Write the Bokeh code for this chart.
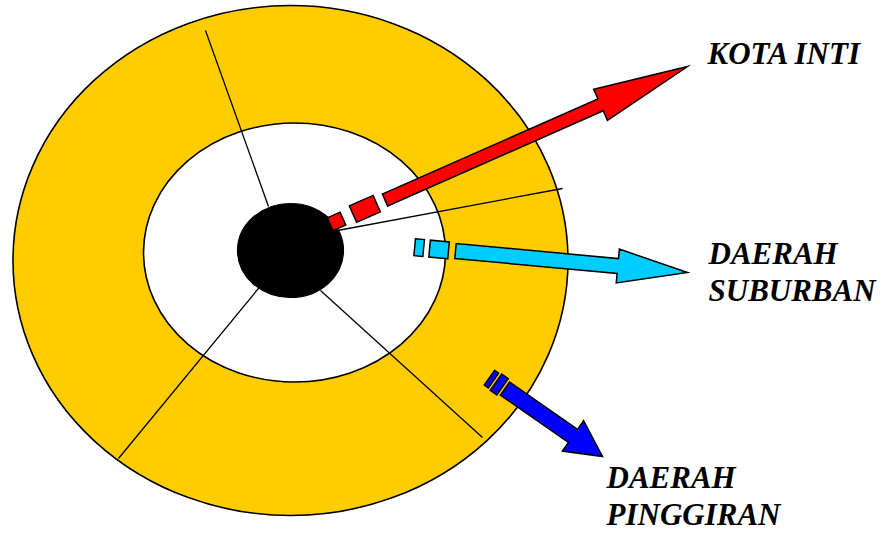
import numpy as np
from bokeh.plotting import figure
from bokeh.models import Range1d
from bokeh.core.properties import value
from bokeh.embed import file_html
from bokeh.resources import INLINE

# ---- diagram data (page pixel coordinates) ----
ring_names = ["outer", "inner", "core"]
ring_cx = [290, 294, 290]
ring_cy = [260, 252, 250]
ring_w = [555, 302, 106]
ring_h = [510, 259, 94]
ring_fill = ["#FFCC00", "#FFFFFF", "#000000"]

line_x0 = [205, 118, 320, 337]
line_y0 = [30, 458, 290, 230]
line_x1 = [268, 262, 482, 562]
line_y1 = [206, 283, 437, 188]

arrow_names = ["KOTA INTI", "DAERAH SUBURBAN", "DAERAH PINGGIRAN"]
arrow_start_x = [384.5, 455, 504.5]
arrow_start_y = [199.5, 250.5, 388]
arrow_tip_x = [687, 687, 602]
arrow_tip_y = [66, 272, 456]
arrow_shaft_hw = [6.5, 7.5, 8]
arrow_head_hw = [17, 17, 18.5]
arrow_head_len = [95, 70, 36]
arrow_color = ["#FF0000", "#00CCFF", "#0000FF"]
# dashes behind the shaft: (from, to) distance back along axis, half width
arrow_dashes = [
    [(9, 35, 9), (46, 60, 7)],
    [(7, 26, 8.5), (32, 41, 8.5)],
    [(3, 11, 10), (14, 19, 9)],
]

label_lines = [["KOTA INTI"], ["DAERAH", "SUBURBAN"], ["DAERAH", "PINGGIRAN"]]
label_x = [707, 708, 606]
label_y = [52.5, 253, 477]
label_step = 36.5

W, H = 890, 530
p = figure(width=W, height=H, x_range=Range1d(0, W), y_range=Range1d(H, 0),
           x_axis_type=None, y_axis_type=None, toolbar_location=None,
           output_backend="svg", min_border=0)
p.grid.visible = False
p.outline_line_color = None
p.background_fill_color = "white"

for i in range(2):
    p.ellipse(x=ring_cx[i], y=ring_cy[i], width=ring_w[i], height=ring_h[i],
              fill_color=ring_fill[i], line_color="black", line_width=1.6)

p.segment(x0=line_x0, y0=line_y0, x1=line_x1, y1=line_y1, line_color="black", line_width=1.3)

p.ellipse(x=ring_cx[2], y=ring_cy[2], width=ring_w[2], height=ring_h[2],
          fill_color=ring_fill[2], line_color="black", line_width=1.2)

xs, ys, cols = [], [], []
for i in range(3):
    S = np.array([arrow_start_x[i], arrow_start_y[i]])
    T = np.array([arrow_tip_x[i], arrow_tip_y[i]])
    u = (T - S) / np.linalg.norm(T - S)
    n = np.array([-u[1], u[0]])
    w, hw, L = arrow_shaft_hw[i], arrow_head_hw[i], arrow_head_len[i]
    Hb = T - L * u
    pts = [S + w * n, Hb + w * n, Hb + hw * n, T, Hb - hw * n, Hb - w * n, S - w * n]
    xs.append([q[0] for q in pts]); ys.append([q[1] for q in pts]); cols.append(arrow_color[i])
    for a, b, dw in arrow_dashes[i]:
        A = S - a * u
        B = S - b * u
        pts = [A + dw * n, B + dw * n, B - dw * n, A - dw * n]
        xs.append([q[0] for q in pts]); ys.append([q[1] for q in pts]); cols.append(arrow_color[i])

p.patches(xs=xs, ys=ys, fill_color=cols, line_color="black", line_width=1.5, line_join="miter")

for i in range(3):
    for j, t in enumerate(label_lines[i]):
        p.text(x=[label_x[i]], y=[label_y[i] + j * label_step], text=[t],
               text_font=value("Liberation Serif"),
               text_font_style="bold italic",
               text_font_size="31px", text_color="black", text_baseline="middle",
               text_align="left")

open("out.html", "w").write(file_html(p, INLINE))
